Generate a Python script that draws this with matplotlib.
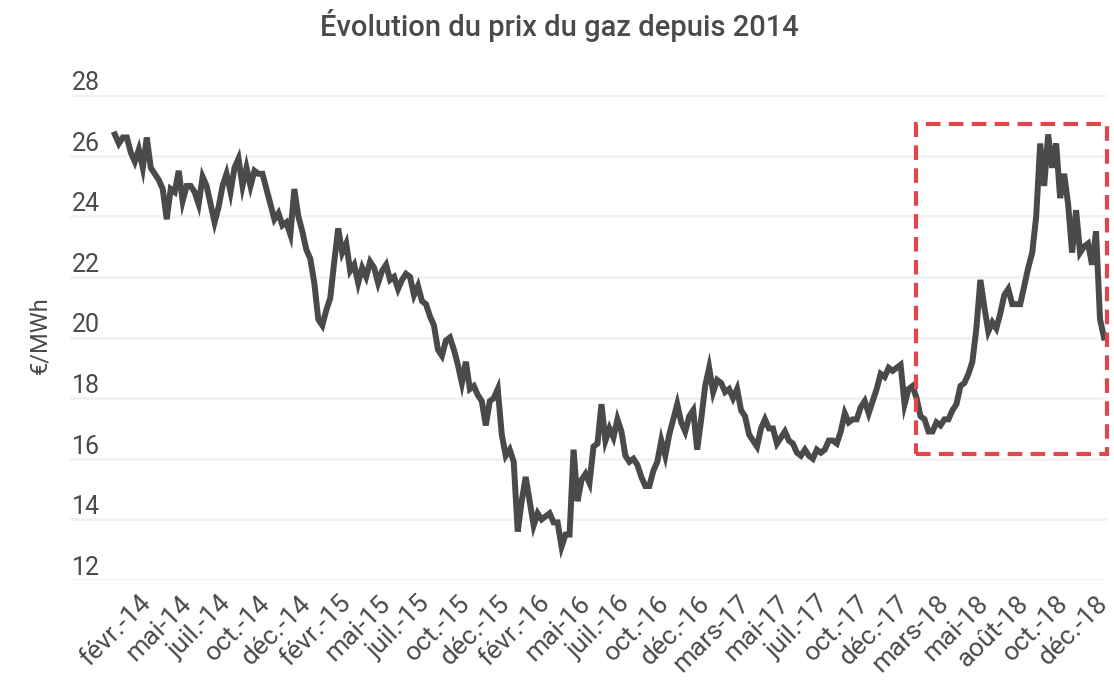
import numpy as np
import matplotlib
matplotlib.use("Agg")
import matplotlib.pyplot as plt

plt.rcParams['font.family'] = ['Roboto', 'DejaVu Sans']

# prix du gaz (€/MWh), relevés à pas régulier sur la période
prix = [
    26.7, 26.4, 26.6, 26.6, 26.1, 25.8, 26.2, 25.6, 26.6, 25.6,
    25.4, 25.2, 24.9, 23.9, 24.9, 24.8, 25.5, 24.5, 25.0, 25.0,
    24.8, 24.4, 25.3, 25.0, 24.4, 23.8, 24.3, 25.0, 25.4, 24.8,
    25.6, 25.9, 25.0, 25.6, 25.0, 25.5, 25.4, 25.4, 24.9, 24.4,
    23.9, 24.1, 23.7, 23.8, 23.4, 24.9, 24.0, 23.5, 22.9, 22.6,
    21.8, 20.6, 20.4, 20.9, 21.3, 22.5, 23.6, 22.8, 23.1, 22.2,
    22.4, 21.8, 22.3, 22.0, 22.5, 22.3, 21.8, 22.2, 22.4, 21.9,
    22.0, 21.6, 21.9, 22.1, 22.0, 21.4, 21.7, 21.2, 21.1, 20.7,
    20.4, 19.6, 19.4, 19.9, 20.0, 19.6, 19.1, 18.5, 19.2, 18.3,
    18.4, 18.1, 17.9, 17.1, 17.9, 18.0, 18.3, 16.8, 16.1, 16.3,
    15.9, 13.6, 14.6, 15.4, 14.6, 13.8, 14.2, 14.0, 14.1, 14.2,
    13.9, 13.9, 13.1, 13.5, 13.5, 16.3, 14.6, 15.3, 15.5, 15.2,
    16.4, 16.5, 17.8, 16.6, 17.0, 16.7, 17.3, 16.9, 16.1, 15.9,
    16.0, 15.8, 15.4, 15.1, 15.1, 15.6, 15.9, 16.6, 16.1, 16.8,
    17.3, 17.8, 17.2, 16.9, 17.4, 17.6, 16.3, 17.3, 18.4, 19.0,
    18.2, 18.6, 18.5, 18.2, 18.3, 18.0, 18.3, 17.6, 17.4, 16.8,
    16.6, 16.4, 17.0, 17.3, 17.0, 17.0, 16.5, 16.7, 16.9, 16.6,
    16.5, 16.2, 16.1, 16.3, 16.1, 16.0, 16.3, 16.2, 16.3, 16.6,
    16.6, 16.5, 16.9, 17.5, 17.2, 17.3, 17.3, 17.7, 17.9, 17.5,
    17.9, 18.3, 18.8, 18.7, 19.0, 18.9, 19.0, 19.1, 17.8, 18.3,
    18.4, 18.0, 17.4, 17.3, 16.9, 16.9, 17.2, 17.1, 17.3, 17.3,
    17.6, 17.8, 18.4, 18.5, 18.8, 19.2, 20.3, 21.9, 21.0, 20.2,
    20.5, 20.3, 20.8, 21.4, 21.6, 21.1, 21.1, 21.1, 21.7, 22.3,
    22.8, 24.0, 26.4, 25.0, 26.7, 25.6, 26.4, 24.6, 25.4, 24.4,
    22.8, 24.2, 22.8, 23.0, 23.1, 22.4, 23.5, 20.6, 20.0,
]

mois = ['févr.-14', 'mai-14', 'juil.-14', 'oct.-14', 'déc.-14',
        'févr.-15', 'mai-15', 'juil.-15', 'oct.-15', 'déc.-15',
        'févr.-16', 'mai-16', 'juil.-16', 'oct.-16', 'déc.-16',
        'mars-17', 'mai-17', 'juil.-17', 'oct.-17', 'déc.-17',
        'mars-18', 'mai-18', 'août-18', 'oct.-18', 'déc.-18']

graduations = [12, 14, 16, 18, 20, 22, 24, 26, 28]

# zone mise en avant (index de début/fin, bornes en €/MWh)
zone_x = (200.75, 248.75)
zone_y = (16.15, 27.05)

gris = '#4a4a4a'
rouge = '#e0474c'

fig = plt.figure(figsize=(11.14, 6.87), dpi=100)
ax = fig.add_axes([70/1114, 1 - 580/687, 1038/1114, 485/687])

x = np.arange(len(prix))
ax.plot(x, prix, color=gris, lw=4.3, solid_joinstyle='miter', zorder=3)

ax.set_ylim(12, 28)
ax.set_xlim(-11.25, 249)
ax.set_yticks(graduations)
ax.yaxis.grid(True, color='#f2f2f2', lw=2)
ax.set_axisbelow(True)
ax.tick_params(axis='y', length=0, labelleft=False)
for g in graduations:
    ax.text(0.002, g, str(g), transform=ax.get_yaxis_transform(),
            ha='left', va='bottom', fontsize=18, color=gris)

pos = np.linspace(6, 246, len(mois))
ax.set_xticks(pos)
ax.set_xticklabels(mois, rotation=45, ha='right', va='top',
                   rotation_mode='anchor', fontsize=19, color=gris)
ax.tick_params(axis='x', length=0, pad=8)

for s in ax.spines.values():
    s.set_visible(False)

rect = plt.Rectangle((zone_x[0], zone_y[0]), zone_x[1] - zone_x[0],
                     zone_y[1] - zone_y[0], fill=False, ec=rouge, lw=3,
                     ls=(0, (3.5, 2)), clip_on=False, zorder=4)
ax.add_patch(rect)

fig.text(40/1114, 1 - 335/687, '€/MWh', rotation=90, ha='center',
         va='center', fontsize=17, color=gris)
fig.text(0.502, 1 - 25/687, 'Évolution du prix du gaz depuis 2014',
         ha='center', va='center', fontsize=21, fontweight='medium',
         color=gris)

fig.savefig('out.png', dpi=100)
